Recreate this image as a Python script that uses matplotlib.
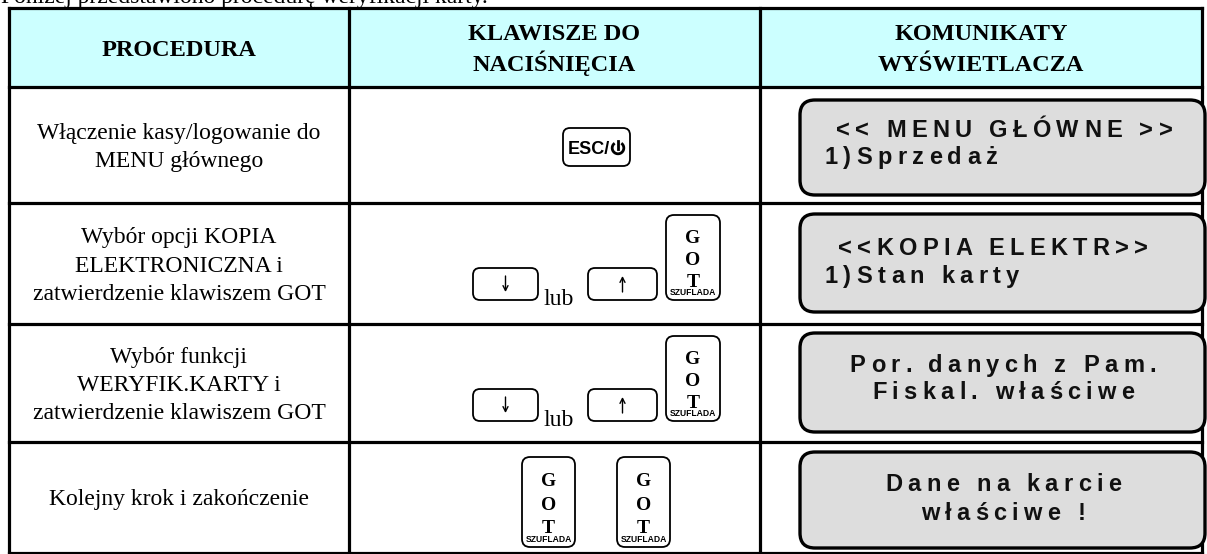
import matplotlib
matplotlib.use("Agg")
import matplotlib.pyplot as plt
from matplotlib.patches import FancyBboxPatch, Rectangle, Arc
from matplotlib.font_manager import FontProperties

# ---------------- content ----------------
intro = "Poniżej przedstawiono procedurę weryfikacji karty."
headers = [["PROCEDURA"], ["KLAWISZE DO", "NACIŚNIĘCIA"], ["KOMUNIKATY", "WYŚWIETLACZA"]]
procedures = [
    ["Włączenie kasy/logowanie do", "MENU głównego"],
    ["Wybór opcji KOPIA", "ELEKTRONICZNA i", "zatwierdzenie klawiszem GOT"],
    ["Wybór funkcji", "WERYFIK.KARTY i", "zatwierdzenie klawiszem GOT"],
    ["Kolejny krok i zakończenie"],
]
key_rows = [
    ["ESC"],
    ["DOWN", "lub", "UP", "GOT"],
    ["DOWN", "lub", "UP", "GOT"],
    ["GOT", "GOT"],
]
got_letters = ["G", "O", "T"]
got_sub = "SZUFLADA"
esc_label = "ESC/"
displays = [
    ["<< MENU GŁÓWNE >>", "1)Sprzedaż"],
    ["<<KOPIA ELEKTR>>", "1)Stan karty"],
    ["Por. danych z Pam.", "Fiskal. właściwe"],
    ["Dane na karcie", "właściwe !"],
]
display_align = ["left", "left", "center", "center"]

# ---------------- figure ----------------
W, H = 1207, 554
fig = plt.figure(figsize=(W / 100, H / 100), dpi=100)
ax = fig.add_axes([0, 0, 1, 1])
ax.set_xlim(0, W)
ax.set_ylim(H, 0)
ax.axis("off")
renderer = fig.canvas.get_renderer()

SERIF = "Liberation Serif"
SANS = "Liberation Sans"

col_x = [9, 349, 760, 1202]
row_y = [8, 87, 203, 324, 442, 553]
LW = 2.3

# intro (clipped at top, as in the source page)
ax.text(1, 3, intro, family=SERIF, fontsize=17, ha="left", va="baseline", color="black")

# header background
ax.add_patch(Rectangle((col_x[0], row_y[0]), col_x[-1] - col_x[0], row_y[1] - row_y[0],
                       facecolor="#ccffff", edgecolor="none", zorder=0))
for y in row_y:
    ax.plot([col_x[0], col_x[-1]], [y, y], color="black", lw=LW, solid_capstyle="projecting", zorder=3)
for x in col_x:
    ax.plot([x, x], [row_y[0], row_y[-1]], color="black", lw=LW, solid_capstyle="projecting", zorder=3)

# header text
for c, lines in enumerate(headers):
    cx = (col_x[c] + col_x[c + 1]) / 2
    bases = [56] if len(lines) == 1 else [40, 71]
    for ln, b in zip(lines, bases):
        ax.text(cx, b, ln, family=SERIF, weight="bold", fontsize=17.5, ha="center", va="baseline")

# procedure text
cx0 = (col_x[0] + col_x[1]) / 2
for r, lines in enumerate(procedures):
    mid = (row_y[r + 1] + row_y[r + 2]) / 2
    n = len(lines)
    for i, ln in enumerate(lines):
        yc = mid + (i - (n - 1) / 2) * 28
        ax.text(cx0, yc + 8, ln, family=SERIF, fontsize=17, ha="center", va="baseline")


# ---------------- keys ----------------
def rkey(x0, y0, x1, y1, r=7):
    ax.add_patch(FancyBboxPatch((x0, y0), x1 - x0, y1 - y0,
                                boxstyle=f"round,pad=0,rounding_size={r}",
                                facecolor="white", edgecolor="black", lw=1.3, zorder=4))


def got_key(x0, y0, x1, y1):
    rkey(x0, y0, x1, y1, r=8)
    cx = (x0 + x1) / 2
    h = y1 - y0
    for letter, off in zip(got_letters, [28, 51, 73]):
        ax.text(cx, y0 + off * h / 86, letter, family=SERIF, weight="bold", fontsize=14,
                ha="center", va="baseline", zorder=5)
    ax.text(cx, y0 + 81 * h / 86, got_sub, family=SANS, weight="bold", fontsize=6.2,
            ha="center", va="baseline", zorder=5)


def arrow_key(x0, y0, x1, y1, down):
    rkey(x0, y0, x1, y1, r=7)
    cx = (x0 + x1) / 2
    cy = (y0 + y1) / 2
    tip, tail = (cy + 8, cy - 8) if down else (cy - 8, cy + 8)
    ax.annotate("", xy=(cx, tip), xytext=(cx, tail),
                arrowprops=dict(arrowstyle="->,head_length=0.35,head_width=0.18",
                                lw=1.0, color="black", shrinkA=0, shrinkB=0), zorder=5)


# row 1: ESC key
rkey(563, 128, 630, 166, r=7)
ax.text(610, 153.5, esc_label, family=SANS, weight="bold", fontsize=13, ha="right", va="baseline", zorder=5)
pcx, pcy, pr = 618, 148, 5.8
ax.add_patch(Arc((pcx, pcy), 2 * pr, 2 * pr, theta1=-55, theta2=235, lw=2.0, color="black", zorder=5))
ax.plot([pcx, pcx], [pcy - pr - 1.5, pcy + 0.5], color="black", lw=2.0, zorder=5)

# rows 2 and 3
for r, top in ((1, 203), (2, 324)):
    dy = top - 203
    for item in key_rows[r]:
        if item == "DOWN":
            arrow_key(473, 268 + dy, 538, 300 + dy, True)
        elif item == "UP":
            arrow_key(588, 268 + dy, 657, 300 + dy, False)
        elif item == "lub":
            ax.text(543, 305 + dy, item, family=SERIF, fontsize=17, ha="left", va="baseline", zorder=5)
        elif item == "GOT":
            got_key(666, 215 + dy, 720, 300 + dy)

# row 4
for item, x0 in zip(key_rows[3], [522, 617]):
    got_key(x0, 457, x0 + 53, 547)

# ---------------- displays ----------------
disp_boxes = [(800, 100, 1205, 195), (800, 214, 1205, 312), (800, 333, 1205, 432), (800, 452, 1205, 548)]
disp_base = [[137, 164], [255, 283], [372, 399], [491, 520]]
disp_left = [[836, 825], [838, 825]]
fp = FontProperties(family=SANS, weight="bold", size=17)
TRACK = 5.3


def adv(s):
    w1, _, _ = renderer.get_text_width_height_descent("|" + s + "|", fp, ismath=False)
    w0, _, _ = renderer.get_text_width_height_descent("||", fp, ismath=False)
    return w1 - w0


def spaced(s, x0, base):
    for i, ch in enumerate(s):
        if ch == " ":
            continue
        x = x0 + adv(s[:i]) + i * TRACK
        ax.text(x, base, ch, fontproperties=fp, ha="left", va="baseline", color="#111111", zorder=6)


for r, (lines, box) in enumerate(zip(displays, disp_boxes)):
    x0, y0, x1, y1 = box
    ax.add_patch(FancyBboxPatch((x0, y0), x1 - x0, y1 - y0,
                                boxstyle="round,pad=0,rounding_size=15",
                                facecolor="#dddddd", edgecolor="black", lw=2.4, zorder=4))
    for i, ln in enumerate(lines):
        if display_align[r] == "left":
            xs = disp_left[r][i]
        else:
            width = adv(ln) + (len(ln) - 1) * TRACK
            xs = 1003 - width / 2
        spaced(ln, xs, disp_base[r][i])

fig.savefig("out.png", dpi=100)
